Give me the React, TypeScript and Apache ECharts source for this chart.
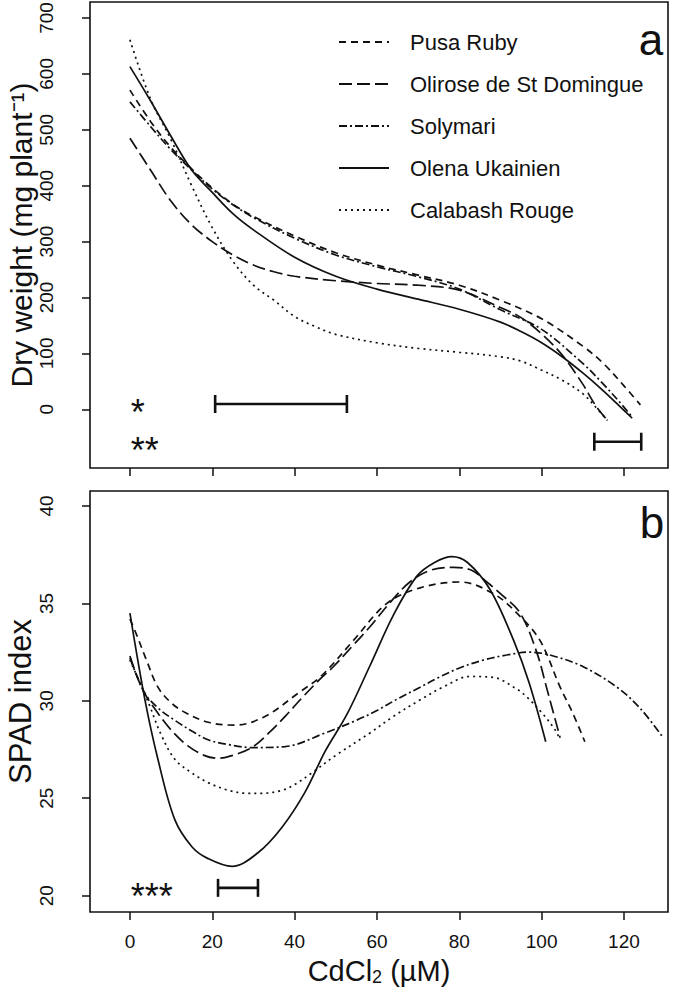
import React, { useEffect, useRef } from 'react';
import * as echarts from 'echarts';

const FONT = '"Liberation Sans", Arial, sans-serif';
const INK = '#111111';

const names = ['Pusa Ruby', 'Olirose de St Domingue', 'Solymari', 'Olena Ukainien', 'Calabash Rouge'];
const dashes: any[] = [[7, 5], [13, 5], [8, 3, 2, 3], 'solid', [2, 4]];

const xTicks = [0, 20, 40, 60, 80, 100, 120];
const yTicksA = [0, 100, 200, 300, 400, 500, 600, 700];
const yTicksB = [20, 25, 30, 35, 40];

// Panel a: dry weight (mg plant-1)
const pusaA_x = [0, 5, 10, 15, 20, 25, 30, 40, 50, 60, 70, 80, 90, 100, 110, 115, 120, 124];
const pusaA_y = [571, 515, 468, 430, 396, 367, 345, 310, 280, 258, 240, 222, 195, 162, 113, 82, 42, 8];
const oliroseA_x = [0, 5, 10, 15, 20, 25, 30, 35, 40, 50, 60, 70, 80, 90, 95, 100, 105, 110, 113, 116];
const oliroseA_y = [485, 428, 372, 330, 300, 276, 258, 246, 238, 230, 225, 222, 213, 182, 164, 135, 97, 45, 8, -20];
const solyA_x = [0, 5, 10, 15, 20, 25, 30, 40, 50, 60, 70, 80, 90, 100, 110, 115, 120, 122];
const solyA_y = [550, 506, 464, 428, 394, 366, 343, 306, 276, 255, 237, 215, 178, 143, 82, 45, 4, -14];
const olenaA_x = [0, 5, 10, 15, 20, 25, 30, 40, 50, 60, 70, 80, 90, 95, 100, 105, 110, 115, 120, 122];
const olenaA_y = [613, 552, 488, 428, 388, 350, 321, 272, 238, 215, 197, 179, 156, 139, 119, 94, 65, 33, -2, -16];
const calaA_x = [0, 5, 10, 15, 20, 25, 30, 35, 40, 45, 50, 60, 70, 80, 90, 95, 100, 105, 110, 113, 116];
const calaA_y = [661, 555, 482, 400, 325, 265, 222, 195, 166, 148, 134, 119, 109, 102, 94, 86, 70, 52, 28, 5, -20];

// Panel b: SPAD index
const pusaB_x = [0, 1.6, 4, 6.8, 10, 13.4, 19, 25.5, 32.8, 40.9, 46.6, 54.3, 62.4, 70.5, 80.2, 88.3, 94, 99.6, 104.5, 107.5, 110.5];
const pusaB_y = [34.2, 33.4, 32.1, 30.7, 29.9, 29.4, 28.9, 28.75, 29.2, 30.4, 31.3, 33.1, 35.0, 35.8, 36.1, 35.5, 34.5, 33.1, 30.7, 29.4, 27.9];
const oliroseB_x = [0, 3, 6, 10, 14, 18, 21.4, 25, 29.6, 34, 37.7, 42, 46.6, 49.4, 54, 58.3, 63, 68, 73, 78.6, 83, 86.7, 90, 94.8, 98.8, 101.3, 104.5];
const oliroseB_y = [32.3, 30.6, 29.6, 28.5, 27.7, 27.2, 27.05, 27.2, 27.6, 28.4, 29.2, 30.2, 31.2, 31.75, 32.8, 33.8, 35.0, 36.1, 36.7, 36.85, 36.7, 36.1, 35.5, 34.5, 32.5, 30.6, 28.1];
const solyB_x = [0, 3.6, 7, 10.9, 15, 19, 24, 29.6, 37.7, 47.4, 55, 60, 65, 70.5, 75, 80.2, 86, 91.5, 97, 102, 110, 118.3, 124, 129.2];
const solyB_y = [32.2, 30.4, 29.6, 29.0, 28.45, 28.0, 27.75, 27.6, 27.65, 28.35, 29.0, 29.5, 30.1, 30.7, 31.2, 31.7, 32.1, 32.35, 32.5, 32.35, 31.76, 30.7, 29.6, 28.2];
const olenaB_x = [0, 3.6, 6.8, 10.9, 15.1, 19, 24.8, 31.1, 36.9, 42.5, 47.4, 52.7, 58.3, 64, 69.7, 74, 78.2, 82, 87.5, 93.2, 97, 101];
const olenaB_y = [34.5, 30.1, 27.0, 23.9, 22.5, 21.9, 21.5, 22.2, 23.5, 25.3, 27.4, 29.3, 31.8, 34.4, 36.4, 37.1, 37.4, 37.1, 35.7, 33.1, 30.9, 27.9];
const calaB_x = [0, 4.5, 7.5, 10.9, 15, 19, 24, 28.8, 32, 36.9, 40, 44.2, 50, 58.3, 64, 70.5, 76, 82.6, 88.3, 94, 96.4, 100, 103.3, 104.5];
const calaB_y = [32.1, 29.9, 28.3, 27.0, 26.3, 25.8, 25.4, 25.25, 25.25, 25.4, 25.7, 26.3, 27.2, 28.35, 29.2, 30.05, 30.7, 31.25, 31.2, 30.6, 30.2, 29.4, 28.5, 28.0];

const panelA = [[pusaA_x, pusaA_y], [oliroseA_x, oliroseA_y], [solyA_x, solyA_y], [olenaA_x, olenaA_y], [calaA_x, calaA_y]];
const panelB = [[pusaB_x, pusaB_y], [oliroseB_x, oliroseB_y], [solyB_x, solyB_y], [olenaB_x, olenaB_y], [calaB_x, calaB_y]];

// LSD bars: [xStart, xEnd, y]
const barsA = [[20.7, 52.7, 9.5], [112.8, 124.2, -58]];
const barsB = [[21.4, 31.1, 20.4]];
// significance marks: [x, y]
const starsA_pos = [[0.2, 9.5], [0.2, -58]];
const starsA_text = ['*', '**'];
const starsB_pos = [[0.2, 20.4]];
const starsB_text = ['***'];

const zip = (xs: number[], ys: number[]) => xs.map((x, i) => [x, ys[i]]);

function lineSeries(grid: number, data: any[]) {
  return data.map((d, i) => ({
    type: 'line',
    name: names[i],
    xAxisIndex: grid,
    yAxisIndex: grid,
    data: zip(d[0], d[1]),
    symbol: 'none',
    smooth: 0.35,
    clip: false,
    lineStyle: { color: INK, width: 1.7, type: dashes[i], cap: 'butt' },
    itemStyle: { color: INK },
    emphasis: { disabled: true },
  }));
}

function barSeries(grid: number, bars: number[][]) {
  return {
    type: 'custom',
    xAxisIndex: grid,
    yAxisIndex: grid,
    data: bars,
    clip: false,
    silent: true,
    renderItem: (params: any, api: any) => {
      const p1 = api.coord([api.value(0), api.value(2)]);
      const p2 = api.coord([api.value(1), api.value(2)]);
      const h = 9;
      const st = { stroke: INK, lineWidth: 2.6 };
      return {
        type: 'group',
        children: [
          { type: 'line', shape: { x1: p1[0], y1: p1[1], x2: p2[0], y2: p2[1] }, style: st },
          { type: 'line', shape: { x1: p1[0], y1: p1[1] - h, x2: p1[0], y2: p1[1] + h }, style: st },
          { type: 'line', shape: { x1: p2[0], y1: p2[1] - h, x2: p2[0], y2: p2[1] + h }, style: st },
        ],
      };
    },
  };
}

function starSeries(grid: number, pos: number[][], texts: string[]) {
  return {
    type: 'custom',
    xAxisIndex: grid,
    yAxisIndex: grid,
    data: pos,
    clip: false,
    silent: true,
    renderItem: (params: any, api: any) => {
      const p = api.coord([api.value(0), api.value(1)]);
      return {
        type: 'text',
        x: p[0],
        y: p[1] + 9,
        style: {
          text: texts[params.dataIndex],
          fill: INK,
          fontSize: 36,
          fontFamily: FONT,
          align: 'left',
          verticalAlign: 'middle',
        },
      };
    },
  };
}

export default function App() {
  const ref = useRef<HTMLDivElement>(null);
  useEffect(() => {
    const chart = echarts.init(ref.current!, null, { renderer: 'svg' });
    const tickStyle = { color: INK, width: 1.5 };
    const xAxisBase = (grid: number, labels: boolean) => ({
      type: 'value',
      gridIndex: grid,
      min: -9.7,
      max: 130.7,
      position: 'bottom',
      axisLine: { show: false, onZero: false },
      splitLine: { show: false },
      axisTick: { show: true, customValues: xTicks, length: 8, lineStyle: tickStyle },
      axisLabel: labels
        ? { show: true, customValues: xTicks, fontSize: 19, color: INK, fontFamily: FONT, margin: 20 }
        : { show: false },
    });
    const yAxisBase = (grid: number, min: number, max: number, ticks: number[]) => ({
      type: 'value',
      gridIndex: grid,
      min,
      max,
      position: 'left',
      axisLine: { show: false, onZero: false },
      splitLine: { show: false },
      axisTick: { show: true, customValues: ticks, length: 8, lineStyle: tickStyle },
      axisLabel: { show: true, customValues: ticks, rotate: 90, fontSize: 19, color: INK, fontFamily: FONT, margin: 34 },
      nameLocation: 'middle',
      nameRotate: 90,
      nameMoveOverlap: false,
    });
    const gridBase = {
      left: 90,
      right: 17,
      show: true,
      borderColor: INK,
      borderWidth: 1.6,
      backgroundColor: 'transparent',
      containLabel: false,
      outerBoundsMode: 'none',
    };
    const option: any = {
      animation: false,
      backgroundColor: '#ffffff',
      textStyle: { fontFamily: FONT, color: INK },
      grid: [
        { ...gridBase, top: 2, height: 466 },
        { ...gridBase, top: 491, height: 421 },
      ],
      xAxis: [
        xAxisBase(0, false),
        {
          ...xAxisBase(1, true),
          name: 'CdCl{sub|2} (µM)',
          nameLocation: 'middle',
          nameGap: 44,
          nameMoveOverlap: false,
          nameTextStyle: {
            fontSize: 29,
            color: INK,
            fontFamily: FONT,
            rich: { sub: { fontSize: 18, fontFamily: FONT, color: INK, verticalAlign: 'bottom', padding: [12, 0, 0, 0] } },
          },
        },
      ],
      yAxis: [
        {
          ...yAxisBase(0, -105, 728.6, yTicksA),
          name: 'Dry weight (mg plant\u207B\u00B9)',
          nameGap: 54,
          nameTextStyle: { fontSize: 30, color: INK, fontFamily: FONT },
        },
        {
          ...yAxisBase(1, 19.16, 40.77, yTicksB),
          name: 'SPAD index',
          nameGap: 54,
          nameTextStyle: { fontSize: 31, color: INK, fontFamily: FONT },
        },
      ],
      legend: {
        data: names,
        orient: 'vertical',
        left: 333,
        top: 26,
        itemWidth: 50,
        itemHeight: 16,
        itemGap: 20,
        selectedMode: false,
        itemStyle: { opacity: 0, borderWidth: 0 },
        textStyle: { fontSize: 22, color: INK, fontFamily: FONT, padding: [0, 0, 0, 16] },
      },
      graphic: [
        { type: 'text', x: 651, y: 61, style: { text: 'a', fontSize: 44, fontFamily: FONT, fill: INK, align: 'center', verticalAlign: 'bottom' } },
        { type: 'text', x: 652, y: 544, style: { text: 'b', fontSize: 44, fontFamily: FONT, fill: INK, align: 'center', verticalAlign: 'bottom' } },
      ],
      series: [
        ...lineSeries(0, panelA),
        ...lineSeries(1, panelB),
        barSeries(0, barsA),
        barSeries(1, barsB),
        starSeries(0, starsA_pos, starsA_text),
        starSeries(1, starsB_pos, starsB_text),
      ],
    };
    chart.setOption(option);
    return () => chart.dispose();
  }, []);
  return (
    <div
      ref={ref}
      style={{ position: 'absolute', left: 0, top: 0, width: 685, height: 996, background: '#fff' }}
    />
  );
}
